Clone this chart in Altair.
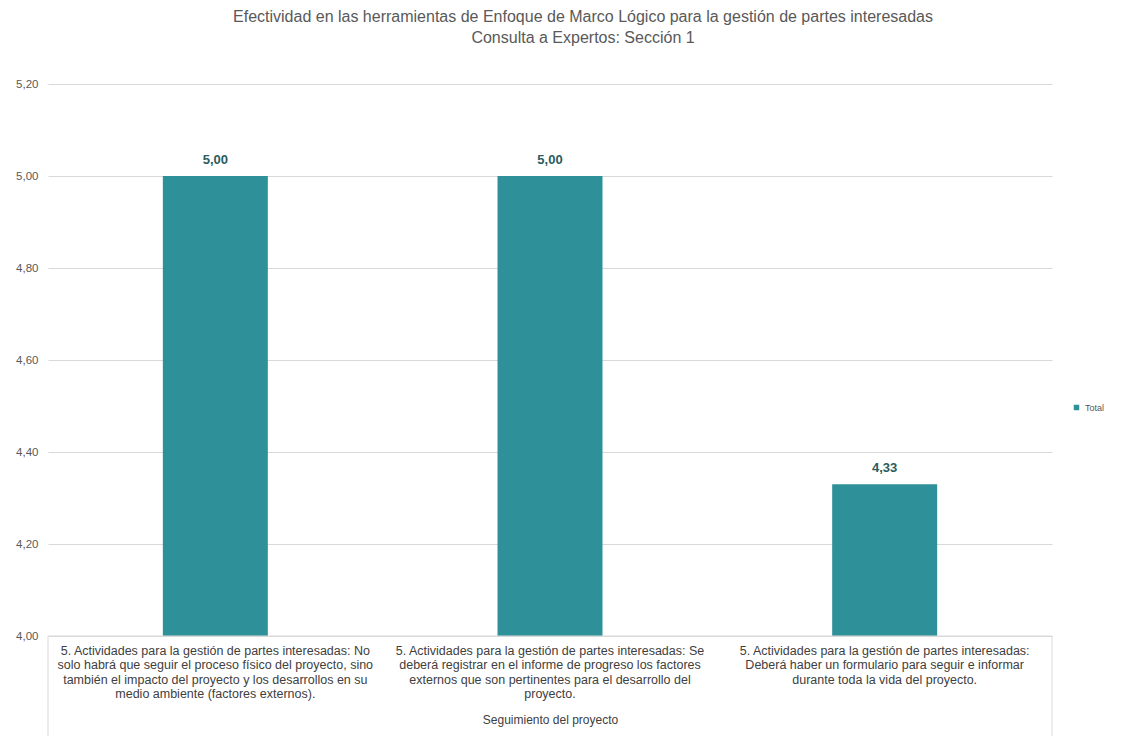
import altair as alt
import pandas as pd

categories = [
    "5. Actividades para la gestión de partes interesadas: No|solo habrá que seguir el proceso físico del proyecto, sino|también el impacto del proyecto y los desarrollos en su|medio ambiente (factores externos).",
    "5. Actividades para la gestión de partes interesadas: Se|deberá registrar en el informe de progreso los factores|externos que son pertinentes para el desarrollo del|proyecto.",
    "5. Actividades para la gestión de partes interesadas:|Deberá haber un formulario para seguir e informar|durante toda la vida del proyecto.",
]
values = [5.00, 5.00, 4.33]
value_labels = ["5,00", "5,00", "4,33"]
series = ["Total", "Total", "Total"]
y_ticks = [4.0, 4.2, 4.4, 4.6, 4.8, 5.0, 5.2]

df = pd.DataFrame({"cat": categories, "val": values, "lab": value_labels, "serie": series})

W, H = 1004, 552
FONT = "Liberation Sans"
BAR = "#2E9199"

x_enc = alt.X(
    "cat:N", sort=None,
    scale=alt.Scale(paddingInner=0, paddingOuter=0),
    axis=alt.Axis(
        title="Seguimiento del proyecto",
        labelExpr="split(datum.label, '|')",
        labelAngle=0, labelAlign="center", labelBaseline="top",
        labelFontSize=12.5, labelLineHeight=14.5, labelPadding=8,
        labelColor="#404040", labelFont=FONT, labelLimit=0,
        titleFont=FONT, titleFontSize=12, titleFontWeight="normal",
        titleColor="#404040", titlePadding=14,
        ticks=False, domain=False, grid=False,
    ),
)
y_enc = alt.Y(
    "val:Q",
    scale=alt.Scale(domain=[4.0, 5.2], nice=False, zero=False),
    axis=alt.Axis(
        title=None, values=y_ticks,
        labelExpr="replace(format(datum.value, '.2f'), '.', ',')",
        labelFontSize=11.5, labelColor="#595959", labelFont=FONT, labelPadding=10,
        ticks=False, domain=False, gridColor="#d9d9d9", gridWidth=1,
    ),
)

bars = alt.Chart(df).mark_bar(size=105, clip=True).encode(
    x=x_enc, y=y_enc,
    color=alt.Color(
        "serie:N",
        scale=alt.Scale(domain=["Total"], range=[BAR]),
        legend=alt.Legend(
            title=None, orient="none", legendX=1024, legendY=319,
            symbolType="square", symbolSize=30, labelFontSize=9,
            labelColor="#595959", labelFont=FONT, symbolStrokeWidth=0,
        ),
    ),
)

texts = alt.Chart(df).mark_text(
    dy=-9, baseline="bottom", fontWeight="bold", fontSize=13,
    color="#2A5C60", font=FONT,
).encode(x=alt.X("cat:N", sort=None), y="val:Q", text="lab:N")

label_box = alt.Chart(pd.DataFrame({"k": [0]})).mark_rect(
    fillOpacity=0, stroke="#d9d9d9", strokeWidth=1
).encode(
    x=alt.value(0), x2=alt.value(W), y=alt.value(H), y2=alt.value(H + 120)
)

chart = alt.layer(bars, texts, label_box).properties(
    width=W, height=H,
    background="white",
    autosize=alt.AutoSizeParams(type="none"),
    padding={"left": 48, "top": 84, "right": 89, "bottom": 100},
    title=alt.TitleParams(
        text=["Efectividad en las herramientas de Enfoque de Marco Lógico para la gestión de partes interesadas",
              "Consulta a Expertos: Sección 1"],
        anchor="middle", fontSize=16, font=FONT, fontWeight="normal",
        color="#595959", offset=32, dx=33, lineHeight=21,
    ),
).configure_view(stroke="transparent", strokeWidth=0)

chart.save("out.html", embed_options={"renderer": "svg", "actions": False})
